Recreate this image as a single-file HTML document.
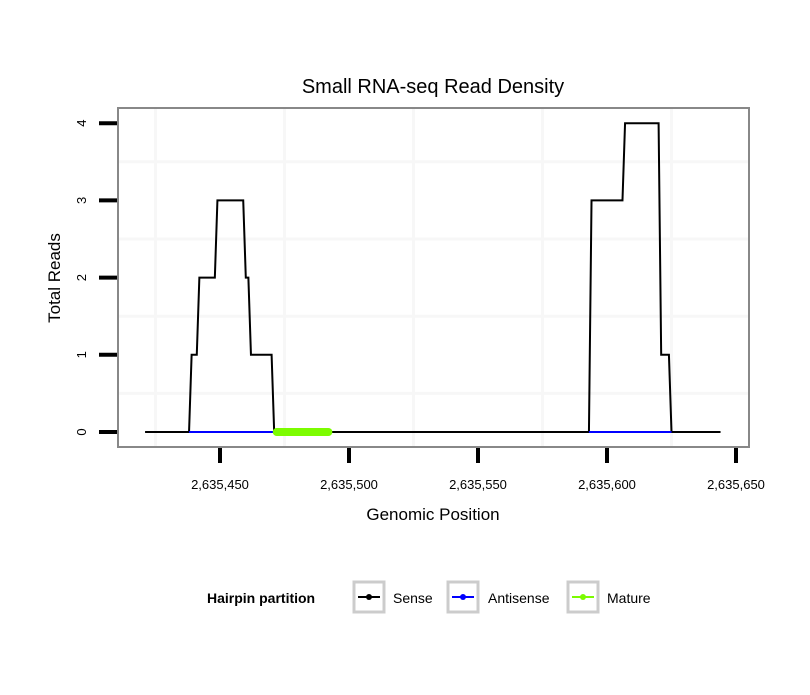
<!DOCTYPE html>
<html><head><meta charset="utf-8"><style>
body{margin:0;background:#fff;}
svg text{font-family:"Liberation Sans",sans-serif;}
</style></head><body>
<svg id="chart" width="810" height="690" viewBox="0 0 810 690">
<rect width="810" height="690" fill="#fff"/>
<text x="433" y="93" font-size="20" text-anchor="middle">Small RNA-seq Read Density</text>
<g id="grid"></g>
<g id="series"></g>
<rect x="118" y="108" width="631" height="339" fill="none" stroke="#888" stroke-width="2"/>
<g id="axes"></g>
<text x="433" y="520" font-size="17" text-anchor="middle">Genomic Position</text>
<text transform="translate(60,278) rotate(-90)" font-size="17" text-anchor="middle">Total Reads</text>
<g>
<text x="207" y="603" font-size="14" font-weight="bold">Hairpin partition</text>
<g>
<rect x="354" y="582" width="30" height="30" fill="#fff" stroke="#ccc" stroke-width="3"/>
<line x1="358" y1="597" x2="380" y2="597" stroke="#000" stroke-width="2"/><circle cx="369" cy="597" r="3" fill="#000"/>
<text x="393" y="603" font-size="14">Sense</text></g>
<g>
<rect x="448" y="582" width="30" height="30" fill="#fff" stroke="#ccc" stroke-width="3"/>
<line x1="452" y1="597" x2="474" y2="597" stroke="#0000ff" stroke-width="2"/><circle cx="463" cy="597" r="3" fill="#0000ff"/>
<text x="488" y="603" font-size="14">Antisense</text></g>
<g>
<rect x="568" y="582" width="30" height="30" fill="#fff" stroke="#ccc" stroke-width="3"/>
<line x1="572" y1="597" x2="594" y2="597" stroke="#7cfc00" stroke-width="2"/><circle cx="583" cy="597" r="3" fill="#7cfc00"/>
<text x="607" y="603" font-size="14">Mature</text></g>
</g>
</svg>
<script>
const xTicks=[2635450,2635500,2635550,2635600,2635650];
const xTickLabels=["2,635,450","2,635,500","2,635,550","2,635,600","2,635,650"];
const yTicks=[0,1,2,3,4];
const senseX=[2635421,2635438,2635439,2635441,2635442,2635448,2635449,2635459,2635460,2635461,2635462,2635470,2635471,2635593,2635594,2635606,2635607,2635620,2635621,2635624,2635625,2635644];
const senseY=[0,0,1,1,2,2,3,3,2,2,1,1,0,0,3,3,4,4,1,1,0,0];
const antisenseSegs=[[2635438,2635471],[2635593,2635625]];
const matureSeg=[2635472,2635492];
const NS="http://www.w3.org/2000/svg";
function X(v){return 220+(v-2635450)*2.58;}
function Y(v){return 432-v*77.2;}
function mk(t,a,p){const e=document.createElementNS(NS,t);for(const k in a)e.setAttribute(k,a[k]);p.appendChild(e);return e;}
const grid=document.getElementById('grid'),ser=document.getElementById('series'),ax=document.getElementById('axes');
for(let i=0;i<xTicks.length;i++){
 const g=mk('line',{x1:X(xTicks[i]-25),x2:X(xTicks[i]-25),y1:109,y2:446,stroke:'#f7f7f7','stroke-width':3},grid);
 
 
}
for(let v=0.5;v<4.5;v+=1){
 const g=mk('line',{x1:119,x2:748,y1:Y(v),y2:Y(v),stroke:'#f7f7f7','stroke-width':3},grid);
 
 
}
const bg=mk('rect',{x:X(2635421),y:Y(0)-1,width:X(2635644)-X(2635421),height:2,fill:'#000'},ser);


let d='';for(let i=0;i<senseX.length;i++)d+=(i?'L':'M')+X(senseX[i])+','+Y(senseY[i]);
const sl=mk('path',{d:d,fill:'none',stroke:'#000','stroke-width':2},ser);


antisenseSegs.forEach(s=>{
 const l=mk('line',{x1:X(s[0]),x2:X(s[1]),y1:Y(0),y2:Y(0),stroke:'#0000ff','stroke-width':2},ser);
 
 
});
const ml=mk('line',{x1:X(matureSeg[0]),x2:X(matureSeg[1]),y1:Y(0),y2:Y(0),stroke:'#7cfc00','stroke-width':8,'stroke-linecap':'round'},ser);


xTicks.forEach((v,i)=>{
 const t=mk('line',{x1:X(v),x2:X(v),y1:448,y2:463,stroke:'#000','stroke-width':4},ax);
 
 
 const l=mk('text',{x:X(v),y:489,'font-size':13,'text-anchor':'middle'},ax);l.textContent=xTickLabels[i];
 
 
});
yTicks.forEach(v=>{
 const t=mk('line',{x1:99,x2:117,y1:Y(v),y2:Y(v),stroke:'#000','stroke-width':4},ax);
 
 
 const l=mk('text',{transform:'translate(86,'+Y(v)+') rotate(-90)','font-size':13,'text-anchor':'middle'},ax);l.textContent=v;
 
 
});
</script>
</body></html>
